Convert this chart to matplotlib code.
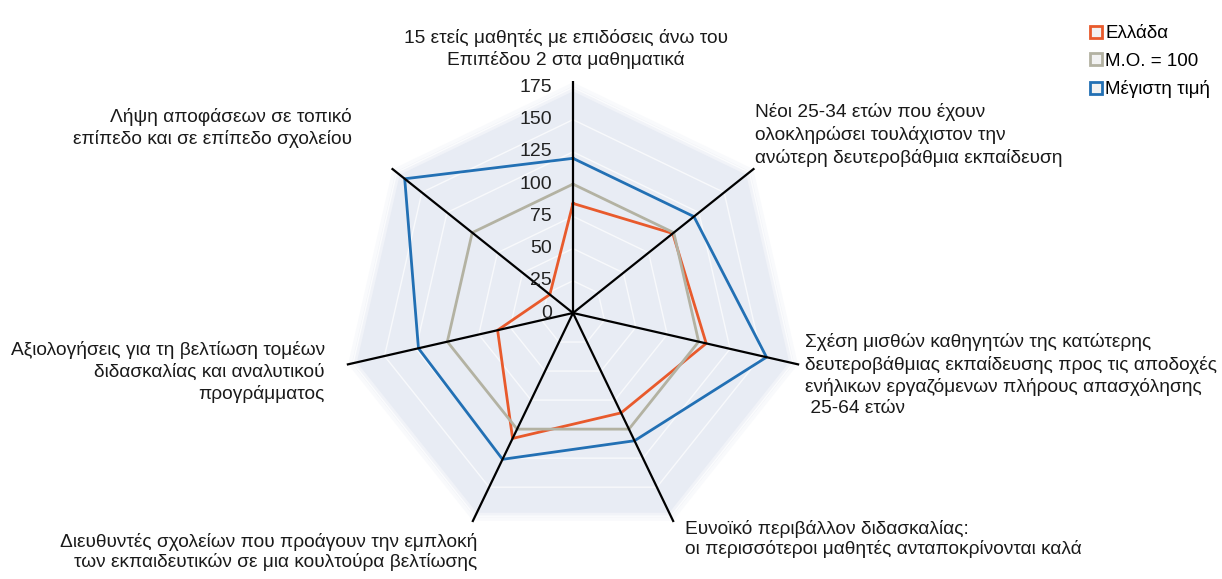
import numpy as np
import matplotlib
matplotlib.use("Agg")
import matplotlib.pyplot as plt
from matplotlib.lines import Line2D
from matplotlib.transforms import offset_copy

plt.rcParams['font.family'] = ['Liberation Sans', 'DejaVu Sans']

# data (clockwise from the top)
categories = [
    "15 ετείς μαθητές με επιδόσεις άνω του\nΕπιπέδου 2 στα μαθηματικά",
    "Νέοι 25-34 ετών που έχουν\nολοκληρώσει τουλάχιστον την\nανώτερη δευτεροβάθμια εκπαίδευση",
    "Σχέση μισθών καθηγητών της κατώτερης\nδευτεροβάθμιας εκπαίδευσης προς τις αποδοχές\nενήλικων εργαζόμενων πλήρους απασχόλησης\n 25-64 ετών",
    "Ευνοϊκό περιβάλλον διδασκαλίας:\nοι περισσότεροι μαθητές ανταποκρίνονται καλά",
    "Διευθυντές σχολείων που προάγουν την εμπλοκή\nτων εκπαιδευτικών σε μια κουλτούρα βελτίωσης",
    "Αξιολογήσεις για τη βελτίωση τομέων\nδιδασκαλίας και αναλυτικού\nπρογράμματος",
    "Λήψη αποφάσεων σε τοπικό\nεπίπεδο και σε επίπεδο σχολείου",
]
greece = [85, 99, 106, 86, 108, 60, 23]
average = [100, 100, 100, 100, 100, 100, 100]
maximum = [120, 120, 154, 110, 126, 123, 167]
series_names = ["Ελλάδα", "Μ.Ο. = 100", "Μέγιστη τιμή"]
ticks = [0, 25, 50, 75, 100, 125, 150, 175]

colors = ["#e85a2c", "#b3b2a2", "#2270b4"]

# label anchors in pixels (x, y, ha, linespacing)
label_pos = [
    (566, 49, "center", 1.3),
    (755, 135, "left", 1.35),
    (805, 375, "left", 1.3),
    (685, 539, "left", 1.15),
    (477, 552, "right", 1.2),
    (325, 372, "right", 1.3),
    (352, 128, "right", 1.35),
]

W, H = 1222, 579
fig = plt.figure(figsize=(W / 100, H / 100), dpi=100)
cx, cy, R = 573, 313, 232
ax = fig.add_axes([(cx - R) / W, (H - cy - R) / H, 2 * R / W, 2 * R / H], projection="polar")
ax.set_theta_offset(np.pi / 2)
ax.set_theta_direction(-1)
ax.set_ylim(0, 180)
ax.axis("off")

n = len(categories)
angles = np.linspace(0, 2 * np.pi, n, endpoint=False)
closed = np.append(angles, angles[0])

# soft heptagon background
for r, a in [(179, 0.25), (176, 0.45), (172, 1.0)]:
    ax.fill(closed, [r] * (n + 1), color="#e8ecf4", alpha=a, lw=0, zorder=0)
for t in ticks[1:]:
    ax.plot(closed, [t] * (n + 1), color="white", lw=1, alpha=0.7, zorder=1)

for vals, c in zip([greece, average, maximum], colors):
    ax.plot(closed, list(vals) + [vals[0]], color=c, lw=2, zorder=3)

for a in angles:
    ax.plot([a, a], [0, 180], color="black", lw=1.6, zorder=4)

tick_tr = offset_copy(ax.transData, fig=fig, x=-21, y=0, units="dots")
for t in ticks:
    ax.text(0, t, str(t), transform=tick_tr, ha="right", va="center",
            fontsize=14, color="#222222", zorder=5)

for lab, (x, y, ha, ls) in zip(categories, label_pos):
    fig.text(x / W, 1 - y / H, lab, ha=ha, va="center", fontsize=13.8,
             color="#1a1a1a", linespacing=ls)

handles = [Line2D([], [], marker="s", linestyle="none", markerfacecolor="#f2f2f2",
                  markeredgecolor=c, markeredgewidth=2, markersize=8) for c in colors]
fig.legend(handles, series_names, loc="upper left",
           bbox_to_anchor=(1080 / W, 1 - 16 / H), frameon=False, fontsize=13.5,
           handlelength=0.7, handletextpad=0.15, labelspacing=0.55, borderpad=0)

fig.savefig("out.png", dpi=100)
